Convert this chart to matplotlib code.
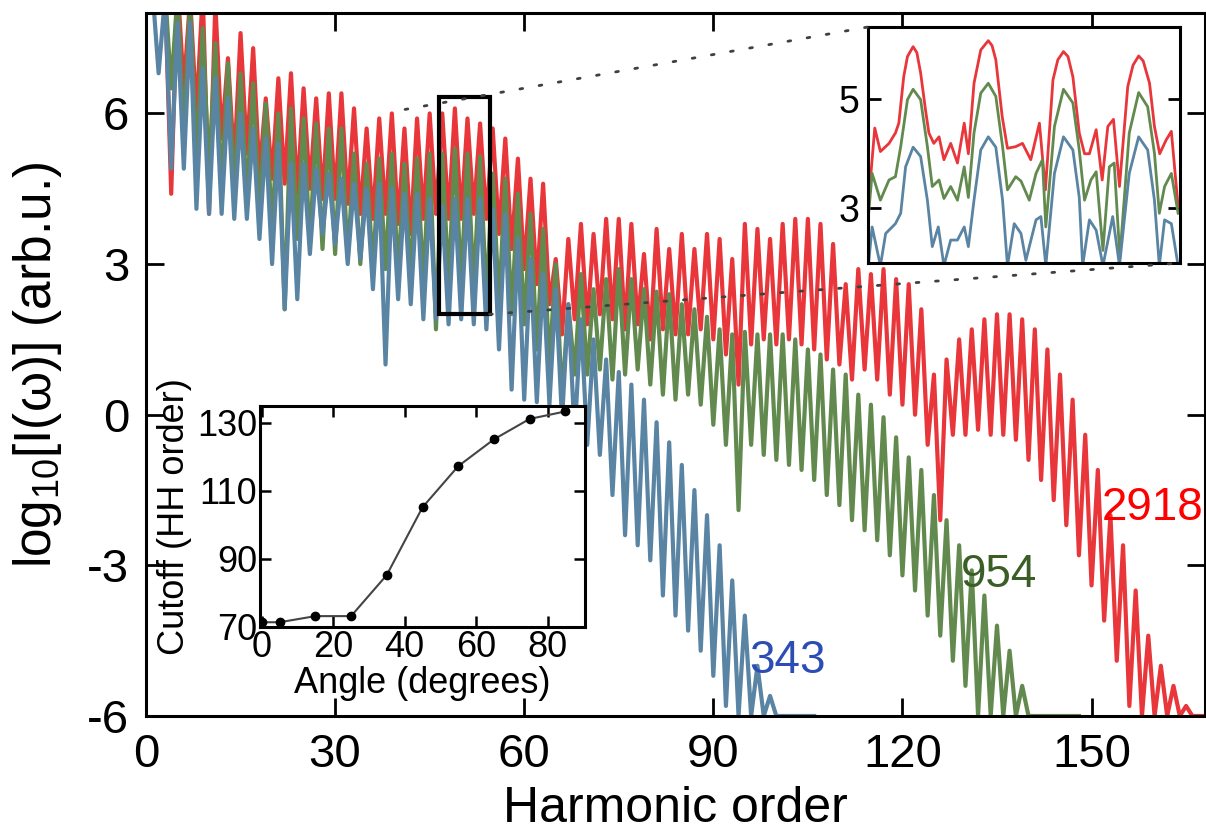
import numpy as np
import matplotlib
matplotlib.use('Agg')
import matplotlib.pyplot as plt
from matplotlib.patches import Rectangle, ConnectionPatch

plt.rcParams['font.family'] = ['Liberation Sans', 'DejaVu Sans']
plt.rcParams['mathtext.fontset'] = 'custom'
plt.rcParams['mathtext.rm'] = 'Liberation Sans'
plt.rcParams['mathtext.it'] = 'Liberation Sans:italic'

# ---- main spectra: peak values at odd harmonics, trough values at even ones ----
red_peaks = [8.5, 8.5, 8.6, 8.3, 8.4, 8.2, 7.1, 7.6, 7.3, 6.3, 6.7, 6.8, 6.5, 6.3,
             6.4, 6.4, 6.1, 5.7, 5.9, 6.0, 5.7, 5.9, 6.0, 6.0, 6.1, 5.9, 5.8, 5.7,
             5.5, 5.1, 4.7, 4.6, 3.1, 3.5, 3.8, 3.6, 3.9, 3.9, 3.8, 3.2, 3.7, 3.3,
             3.6, 3.3, 3.6, 3.5, 3.1, 3.8, 3.7, 3.5, 3.8, 3.9, 3.9, 3.8, 3.4, 2.6,
             2.9, 2.8, 2.9, 2.7, 2.6, 2.1, 0.8, 1.1, 1.5, 1.7, 1.9, 2.0, 2.0, 1.9,
             1.7, 1.3, 0.8, 0.3, -0.4, -1.1, -2.0, -2.6, -3.5, -4.4, -5.0, -5.4,
             -5.8, -6.0]
red_troughs = [8.4, 4.4, 6.5, 6.0, 4.0, 5.5, 5.0, 5.2, 4.8, 4.7, 4.6, 4.4, 4.5, 4.3,
               4.3, 4.2, 4.0, 3.9, 4.0, 3.8, 3.6, 3.9, 4.0, 3.9, 3.9, 4.0, 3.9, 3.6,
               3.3, 2.9, 2.6, 2.2, 1.6, 1.9, 1.8, 2.0, 1.9, 1.7, 1.8, 1.5, 1.7, 1.6,
               1.6, 1.7, 1.5, 1.2, 0.6, 1.4, 1.5, 1.4, 1.5, 1.4, 1.3, 1.1, 1.0, 0.7,
               0.9, 0.7, 0.4, 0.2, 0.0, -0.6, -2.1, -0.4, -0.4, -0.3, -0.4, -0.4,
               -0.5, -0.9, -1.3, -1.7, -2.2, -2.8, -3.4, -4.1, -4.9, -5.8, -6.0,
               -6.0, -6.0, -6.0, -6.0, -6.0]

green_peaks = [8.5, 8.5, 8.4, 8.3, 7.7, 7.4, 7.0, 6.8, 6.6, 6.2, 6.0, 6.1, 5.9, 5.8,
               5.7, 5.7, 5.2, 5.0, 5.1, 5.2, 5.0, 5.1, 5.2, 5.2, 5.3, 5.2, 5.15, 4.8,
               4.7, 4.4, 4.0, 3.7, 3.0, 2.2, 2.8, 2.5, 2.7, 2.9, 2.7, 2.5, 2.45, 2.4,
               2.2, 2.1, 1.95, 1.7, 1.6, 1.65, 1.6, 1.6, 1.6, 1.5, 1.3, 1.2, 0.9,
               0.8, 0.4, 0.2, -0.05, -0.45, -0.85, -1.1, -1.6, -2.1, -2.6, -3.1,
               -3.6, -4.2, -4.7, -5.4, -6.0, -6.0, -6.0, -6.0]
green_troughs = [8.0, 6.5, 5.5, 5.0, 4.8, 4.5, 4.4, 4.3, 4.0, 3.7, 2.1, 3.5, 3.4, 3.3,
                 3.2, 3.1, 3.0, 2.9, 2.9, 2.8, 2.7, 2.6, 1.7, 2.6, 2.6, 2.5, 2.3, 2.2,
                 2.0, 1.8, 1.3, 1.0, 0.3, 0.8, 0.8, 0.9, 0.7, 0.8, 0.9, 0.6, 0.4, 0.3,
                 0.4, 0.2, -0.2, -0.6, -1.9, -0.6, -0.8, -0.9, -1.0, -1.1, -1.3, -1.6,
                 -1.8, -2.1, -2.3, -2.5, -2.8, -3.2, -3.5, -4.0, -4.4, -4.9, -5.4,
                 -6.0, -6.0, -6.0, -6.0, -6.0, -6.0, -6.0, -6.0, -6.0]

blue_peaks = [8.5, 8.3, 7.8, 7.8, 6.9, 6.7, 6.3, 6.0, 5.7, 5.5, 5.4, 5.0, 5.0, 4.9,
              4.8, 4.7, 4.6, 4.5, 4.6, 4.5, 4.4, 4.4, 4.3, 4.15, 4.3, 4.3, 4.3, 4.1,
              4.0, 3.5, 3.1, 2.8, 2.5, 2.2, 1.9, 1.5, 1.1, 0.85, 0.6, 0.3, -0.15,
              -0.55, -1.0, -1.5, -2.0, -2.6, -3.3, -4.0, -5.0, -5.6, -6.0, -6.0, -6.0]
blue_troughs = [6.8, 4.9, 4.9, 4.1, 4.0, 4.0, 3.9, 3.9, 3.5, 3.0, 2.1, 2.3, 3.2, 3.6,
                3.4, 3.0, 3.1, 2.5, 1.0, 2.3, 2.2, 1.9, 1.9, 1.8, 1.9, 1.8, 1.7, 1.3,
                0.5, 0.3, 0.25, 0.2, -0.1, -0.4, -0.6, -0.8, -1.6, -2.4, -2.6, -2.9,
                -3.6, -4.0, -4.3, -4.7, -5.2, -5.8, -6.0, -6.0, -6.0, -6.0, -6.0,
                -6.0, -6.0]

# ---- zoomed inset (harmonics ~46-54) ----
zr_x = [45.80, 45.98, 46.13, 46.36, 46.53, 46.62, 46.75, 46.85, 47.00, 47.10, 47.20,
        47.33, 47.42, 47.55, 47.69, 47.82, 48.00, 48.18, 48.36, 48.47, 48.62, 48.80,
        49.00, 49.10, 49.20, 49.37, 49.51, 49.73, 49.91, 50.13, 50.36, 50.52, 50.72,
        50.85, 51.00, 51.12, 51.25, 51.42, 51.56, 51.69, 51.87, 52.03, 52.18, 52.33,
        52.49, 52.71, 52.85, 53.00, 53.12, 53.29, 53.42, 53.56, 53.73, 53.87, 54.05]
zr_y = [3.00, 4.47, 4.04, 4.19, 4.38, 4.56, 5.41, 5.78, 5.96, 5.85, 5.48, 4.80, 4.38,
        4.19, 4.31, 3.89, 4.19, 3.83, 4.56, 4.00, 5.29, 5.90, 6.07, 5.98, 5.72, 4.68,
        4.10, 4.13, 4.19, 3.89, 4.56, 3.34, 5.35, 5.72, 5.87, 5.78, 5.41, 4.38, 4.00,
        4.00, 4.44, 3.52, 4.50, 4.63, 3.40, 5.23, 5.62, 5.79, 5.70, 5.29, 4.50, 4.00,
        4.25, 4.41, 3.03]
zg_x = [45.81, 45.91, 46.13, 46.36, 46.53, 46.67, 46.85, 47.00, 47.20, 47.38, 47.51,
        47.69, 47.82, 48.00, 48.18, 48.36, 48.47, 48.62, 48.80, 49.00, 49.20, 49.38,
        49.51, 49.73, 49.87, 50.09, 50.27, 50.44, 50.53, 50.76, 51.00, 51.25, 51.42,
        51.56, 51.73, 51.87, 52.05, 52.22, 52.35, 52.50, 52.75, 53.00, 53.24, 53.42,
        53.55, 53.69, 53.87, 54.05]
zg_y = [2.85, 3.64, 3.15, 3.52, 3.58, 4.13, 4.99, 5.18, 4.99, 4.13, 3.40, 3.52, 3.18,
        3.40, 3.15, 3.76, 3.20, 4.38, 5.11, 5.29, 5.05, 4.13, 3.34, 3.58, 3.50, 3.15,
        3.64, 3.89, 2.66, 4.50, 5.18, 4.93, 4.07, 3.15, 3.52, 3.67, 2.23, 3.76, 3.83,
        2.11, 4.38, 5.12, 4.86, 4.01, 2.91, 3.40, 3.64, 2.91]
zb_x = [45.81, 45.91, 46.13, 46.27, 46.53, 46.67, 46.80, 47.00, 47.20, 47.38, 47.51,
        47.67, 47.82, 48.00, 48.18, 48.36, 48.47, 48.62, 48.80, 49.00, 49.20, 49.38,
        49.51, 49.69, 49.87, 50.00, 50.27, 50.40, 50.53, 50.76, 51.00, 51.25, 51.42,
        51.51, 51.69, 51.87, 52.05, 52.31, 52.49, 52.75, 53.00, 53.24, 53.42, 53.55,
        53.69, 53.87, 54.05]
zb_y = [1.95, 2.66, 1.95, 2.54, 2.72, 2.91, 3.76, 4.12, 3.95, 3.15, 2.30, 2.66, 1.95,
        2.42, 2.42, 2.66, 2.30, 3.15, 4.07, 4.31, 4.12, 3.15, 1.95, 2.72, 2.54, 2.05,
        2.79, 2.85, 1.95, 3.64, 4.31, 4.07, 3.20, 1.95, 2.79, 2.60, 1.95, 2.85, 1.95,
        3.64, 4.31, 4.07, 3.15, 1.95, 2.79, 2.72, 1.95]

# ---- cutoff vs angle inset ----
angles = [0, 5, 15, 25, 35, 45, 55, 65, 75, 85]
cutoff = [71.4, 71.4, 73.2, 73.2, 85.3, 105.2, 117.3, 125.2, 131.2, 133.4]

RED = '#E8363A'
GREEN = '#628A4E'
BLUE = '#5A84A3'


def spectrum(peaks, troughs):
    vals = np.empty(len(peaks) + len(troughs))
    vals[0::2] = peaks
    vals[1::2] = troughs
    return np.arange(1, len(vals) + 1), vals


fig = plt.figure(figsize=(12.06, 8.35), dpi=100)
ax = fig.add_axes([146 / 1206, 1 - 716 / 835, 1059 / 1206, 703 / 835])

for pk, tr, c in [(red_peaks, red_troughs, RED),
                  (green_peaks, green_troughs, GREEN),
                  (blue_peaks, blue_troughs, BLUE)]:
    h, v = spectrum(pk, tr)
    ax.plot(h, v, color=c, lw=3.0)

ax.set_xlim(0, 168)
ax.set_ylim(-6, 8)
ax.set_xticks([0, 30, 60, 90, 120, 150])
ax.set_yticks([-6, -3, 0, 3, 6])
ax.set_yticklabels(['-6', '-3', '0', '3', '6'])
ax.tick_params(direction='in', length=13, width=2, labelsize=34,
               top=True, right=True)
ax.tick_params(axis='x', pad=12)
ax.tick_params(axis='y', pad=12)
for s in ax.spines.values():
    s.set_linewidth(2.2)
ax.set_xlabel('Harmonic order', fontsize=36)
ax.set_ylabel('log$_{10}$[I(ω)] (arb.u.)', fontsize=37)
ax.xaxis.set_label_coords(0.5, -0.1)
ax.yaxis.set_label_coords(-0.077, 0.5)

ax.text(101.7, -4.9, '343', color='#2C4DB4', fontsize=33, ha='center', va='center')
ax.text(135.3, -3.2, '954', color='#3B5E27', fontsize=33, ha='center', va='center')
ax.text(159.7, -1.85, '2918', color='#FF0000', fontsize=33, ha='center', va='center')

ax.add_patch(Rectangle((46.45, 2.0), 8.05, 4.32, fill=False, lw=3, ec='black', zorder=5))

# top-right zoom inset
axz = fig.add_axes([868 / 1206, 1 - 263 / 835, 312 / 1206, 236 / 835])
axz.plot(zr_x, zr_y, color=RED, lw=2.0)
axz.plot(zg_x, zg_y, color=GREEN, lw=2.0)
axz.plot(zb_x, zb_y, color=BLUE, lw=2.0)
axz.set_xlim(45.8, 54.1)
axz.set_ylim(2.0, 6.32)
axz.set_xticks([])
axz.set_yticks([3, 5])
axz.tick_params(direction='in', length=9, width=2, labelsize=27, right=True, pad=6)
for s in axz.spines.values():
    s.set_linewidth(2.2)

for xyA, xyB in [((41.1, 6.08), (0, 1)), ((54.5, 2.0), (1, 0))]:
    con = ConnectionPatch(xyA=xyA, coordsA=ax.transData, xyB=xyB, coordsB=axz.transAxes,
                          ls=(0, (1, 6)), lw=2, color='0.25')
    fig.add_artist(con)

# lower-left cutoff inset
axc = fig.add_axes([260 / 1206, 1 - 627 / 835, 325 / 1206, 221 / 835])
axc.plot(angles, cutoff, color='#444444', lw=1.5, marker='o', ms=6,
         mfc='black', mec='black')
axc.set_xlim(-0.5, 90.5)
axc.set_ylim(70, 135)
axc.set_xticks([0, 20, 40, 60, 80])
axc.set_yticks([70, 90, 110, 130])
axc.tick_params(direction='in', length=8, width=1.8, labelsize=26,
                top=True, right=True, pad=2)
for s in axc.spines.values():
    s.set_linewidth(2.2)
axc.set_xlabel('Angle (degrees)', fontsize=26, labelpad=1)
axc.set_ylabel('Cutoff (HH order)', fontsize=26, labelpad=4)

fig.savefig('out.png', dpi=100)
